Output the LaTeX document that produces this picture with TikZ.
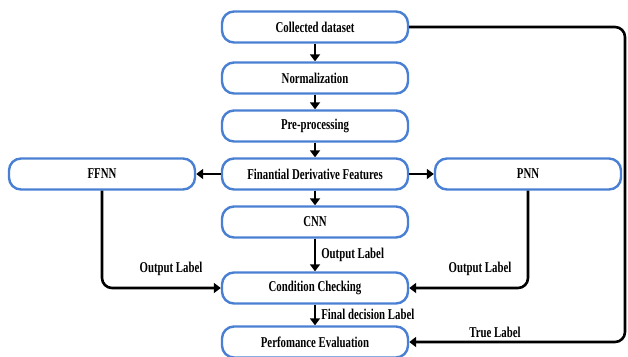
\documentclass[tikz,border=0pt]{standalone}
\usepackage{fontspec}
\setmainfont{Liberation Serif}[FakeStretch=0.72]
\usetikzlibrary{arrows.meta}
\definecolor{boxblue}{RGB}{74,128,212}
\tikzset{
  box/.style={draw=boxblue, line width=2.4pt, rounded corners=12pt, fill=white,
    minimum width=186pt, minimum height=31pt, inner sep=0pt,
    font=\fontsize{15}{17}\selectfont\bfseries},
  conn/.style={draw=black, line width=2.6pt, -{Triangle[length=7pt,width=10pt]}},
  lbl/.style={font=\fontsize{15}{17}\selectfont\bfseries, inner sep=0pt}
}
\begin{document}
\begin{tikzpicture}[x=1pt,y=-1pt]
\useasboundingbox (0,0) rectangle (628,356);
\clip (0,0) rectangle (628,356);
\node[box] (cd) at (315,27) {Collected dataset};
\node[box] (no) at (315,78) {Normalization};
\node[box] (pp) at (315,126) {Pre-processing};
\node[box] (fd) at (315,174) {Finantial Derivative Features};
\node[box] (ff) at (102,174) {FFNN};
\node[box] (pn) at (528,174) {PNN};
\node[box] (cn) at (315,222) {CNN};
\node[box] (cc) at (315,288) {Condition Checking};
\node[box] (pe) at (315,342) {Perfomance Evaluation};
\draw[conn] (cd) -- (no);
\draw[conn] (no) -- (pp);
\draw[conn] (pp) -- (fd);
\draw[conn] (fd) -- (ff);
\draw[conn] (fd) -- (pn);
\draw[conn] (fd) -- (cn);
\draw[conn] (cn) -- node[lbl, right=5pt, pos=0.5] {Output Label} (cc);
\draw[conn] (cc) -- node[lbl, right=5pt, pos=0.45] {Final decision Label} (pe);
\coordinate (ffc) at (ff.south |- cc.west);
\draw[conn, rounded corners=10pt] (ff.south) -- (ffc) -- (cc.west);
\node[lbl] at (171,269) {Output Label};
\coordinate (pnc) at (pn.south |- cc.east);
\draw[conn, rounded corners=10pt] (pn.south) -- (pnc) -- (cc.east);
\node[lbl] at (480,269) {Output Label};
\coordinate (r1) at (625,27);
\coordinate (r2) at (625,342);
\draw[conn, rounded corners=10pt] (cd.east) -- (r1) -- (r2) -- (pe.east);
\node[lbl] at (495,332) {True Label};
\end{tikzpicture}
\end{document}
